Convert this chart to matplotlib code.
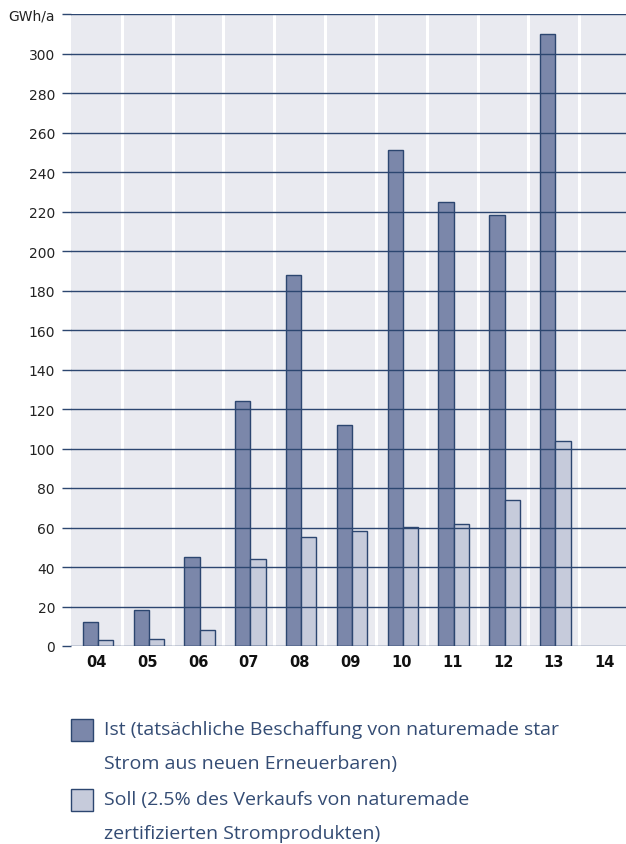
import matplotlib
matplotlib.use("Agg")
import matplotlib.pyplot as plt
import numpy as np

years = ["04", "05", "06", "07", "08", "09", "10", "11", "12", "13", "14"]
ist = [12, 18, 45, 124, 188, 112, 251, 225, 218, 310, np.nan]
soll = [3, 3.5, 8, 44, 55, 58, 60.5, 62, 74, 104, np.nan]
yticks = list(range(0, 320, 20))
ytick_labels = [str(v) for v in yticks]
unit_label = "GWh/a"
legend_labels = [
    ["Ist (tatsächliche Beschaffung von naturemade star", "Strom aus neuen Erneuerbaren)"],
    ["Soll (2.5% des Verkaufs von naturemade", "zertifizierten Stromprodukten)"],
]

grid_col = "#2c4670"
ist_col = "#7b87aa"
soll_col = "#c6cbdb"
bg_col = "#e9eaf0"
txt_col = "#344c74"

plt.rcParams["font.family"] = ["DejaVu Sans"]

fig = plt.figure(figsize=(6.26, 8.45), dpi=100)
ax = fig.add_axes([71 / 626, 1 - 647 / 845, 1 - 71 / 626, (647 - 15) / 845])
ax.set_facecolor(bg_col)

x = np.arange(len(years))
w = 0.3
ax.bar(x - w / 2 + 0.03, ist, width=w, color=ist_col, edgecolor=grid_col, linewidth=1.0, zorder=2)
ax.bar(x + w / 2 + 0.03, soll, width=w, color=soll_col, edgecolor=grid_col, linewidth=1.0, zorder=2)

for b in np.arange(0.5, len(years) - 1, 1.0):
    ax.axvline(b, color="white", linewidth=2.2, zorder=1)

all_ticks = yticks + [320]
for v in all_ticks:
    ax.axhline(v, color=grid_col, linewidth=1.0, zorder=3)

ax.set_xlim(-0.5, 10.42)
ax.set_ylim(0, 320)
ax.set_yticks(all_ticks)
ax.set_yticklabels(ytick_labels + [unit_label])
ax.tick_params(axis="y", length=6.5, width=1.0, color=grid_col, pad=5, labelsize=10, labelcolor="#222222")
ax.set_xticks(x)
ax.set_xticklabels(years, fontweight="bold")
ax.tick_params(axis="x", length=0, pad=6, labelsize=10.5, labelcolor="#111111")
for s in ax.spines.values():
    s.set_visible(False)

# legend
colors = [ist_col, soll_col]
line_y = [[730, 764], [800, 834]]
for lab, c, ys in zip(legend_labels, colors, line_y):
    sq_top = ys[0] - 10
    fig.patches.append(matplotlib.patches.Rectangle(
        (71 / 626, 1 - (sq_top + 22) / 845), 22 / 626, 22 / 845,
        transform=fig.transFigure, facecolor=c, edgecolor=grid_col, linewidth=1.0))
    for t, yy in zip(lab, ys):
        fig.text(104 / 626, 1 - yy / 845, t, ha="left", va="center", fontsize=14,
                 color=txt_col, family=["Open Sans", "DejaVu Sans"])

fig.savefig("out.png", dpi=100)
